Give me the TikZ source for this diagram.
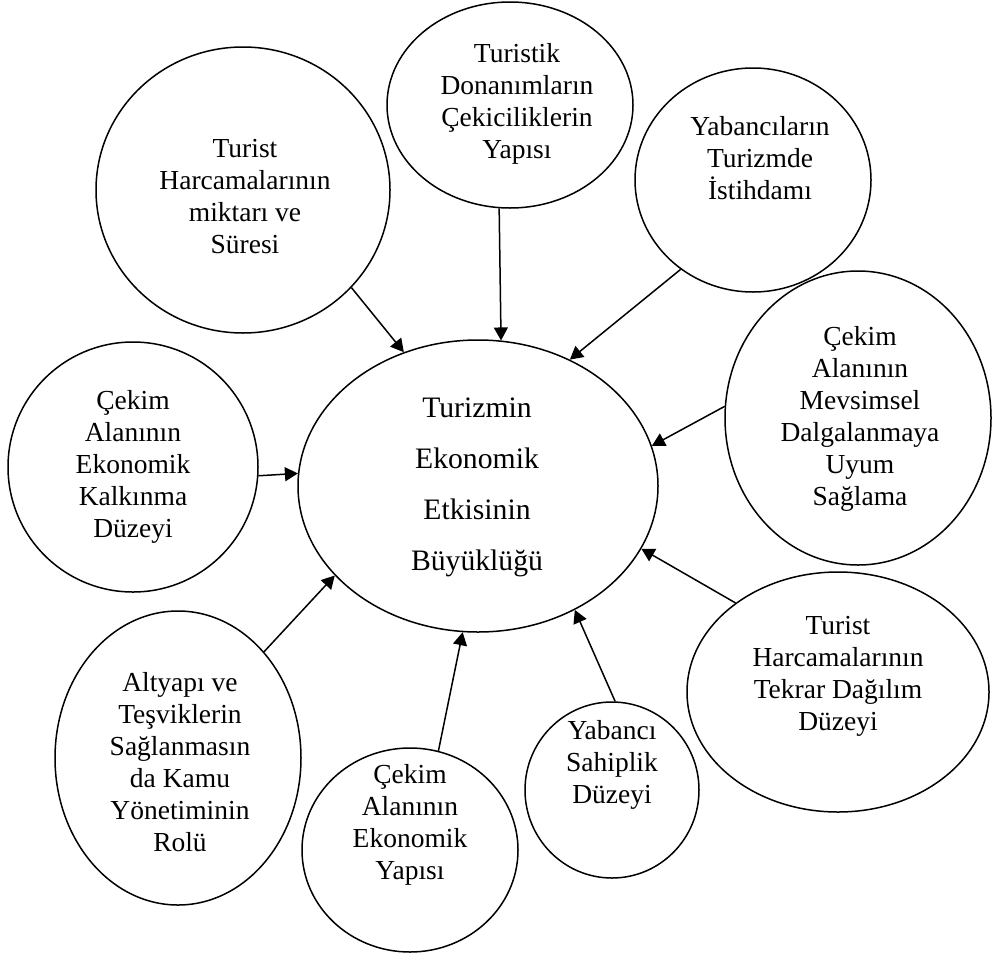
\documentclass[tikz,border=0pt]{standalone}
\usepackage{fontspec}
\setmainfont{Liberation Serif}
\usetikzlibrary{arrows.meta, shapes}

\begin{document}
\begin{tikzpicture}[
  x=1pt, y=-1pt,
  every text node part/.style={align=center},
  circsty/.style={draw, ellipse, line width=1.5pt, inner sep=0pt},
  txtsty/.style={font=\fontsize{27.5}{32}\selectfont, inner sep=0pt},
  bigtxt/.style={font=\fontsize{29.7}{51}\selectfont, inner sep=0pt},
  arrsty/.style={line width=1.5pt, -{Triangle[length=13pt,width=14pt]}}
]
\useasboundingbox (0,0) rectangle (992,953);

% centre
\node[circsty, minimum width=360pt, minimum height=292pt] (C) at (478,486) {};
\node[bigtxt] (tC) at (477,487) {Turizmin\\Ekonomik\\Etkisinin\\Büyüklüğü};

% factors
\node[circsty, minimum width=294pt, minimum height=286pt] (THM) at (243,190) {};
\node[txtsty] (tTHM) at (245,197) {Turist\\Harcamalarının\\miktarı ve\\Süresi};

\node[circsty, minimum width=246pt, minimum height=206pt] (TDC) at (510,105) {};
\node[txtsty] (tTDC) at (517,104) {Turistik\\Donanımların\\Çekiciliklerin\\Yapısı};

\node[circsty, minimum width=236pt, minimum height=224pt] (YTI) at (753,180) {};
\node[txtsty] (tYTI) at (760,158) {Yabancıların\\Turizmde\\İstihdamı};

\node[circsty, minimum width=266pt, minimum height=294pt] (CMD) at (858,418) {};
\node[txtsty] (tCMD) at (860,419) {Çekim\\Alanının\\Mevsimsel\\Dalgalanmaya\\Uyum\\Sağlama};

\node[circsty, minimum width=250pt, minimum height=250pt] (CEK) at (133,467) {};
\node[txtsty] (tCEK) at (133,467) {Çekim\\Alanının\\Ekonomik\\Kalkınma\\Düzeyi};

\node[circsty, minimum width=302pt, minimum height=240pt] (THT) at (838,692) {};
\node[txtsty] (tTHT) at (838,676) {Turist\\Harcamalarının\\Tekrar Dağılım\\Düzeyi};

\node[circsty, minimum width=246pt, minimum height=294pt] (AKY) at (178,758) {};
\node[txtsty] (tAKY) at (180,762) {Altyapı ve\\Teşviklerin\\Sağlanmasın\\da Kamu\\Yönetiminin\\Rolü};

\node[circsty, minimum width=216pt, minimum height=204pt] (CEY) at (410,850) {};
\node[txtsty] (tCEY) at (410,825) {Çekim\\Alanının\\Ekonomik\\Yapısı};

\node[circsty, minimum width=174pt, minimum height=176pt] (YSD) at (612,790) {};
\node[txtsty] (tYSD) at (612,765) {Yabancı\\Sahiplik\\Düzeyi};

% arrows
\draw[arrsty] (THM.318.5) -- (C.119);
\draw[arrsty] (TDC.264) -- (C.81.5);
\draw[arrsty] (YTI.231.6) -- (C.54);
\draw[arrsty] (CMD.175.7) -- (C.13);
\draw[arrsty] (CEK.356.3) -- (C.176.5);
\draw[arrsty] (THT.139) -- (C.339);
\draw[arrsty] (AKY.51.6) -- (C.212);
\draw[arrsty] (CEY.74.6) -- (C.264);
\draw[arrsty] (YSD.88) -- (C.308);

\end{tikzpicture}
\end{document}
